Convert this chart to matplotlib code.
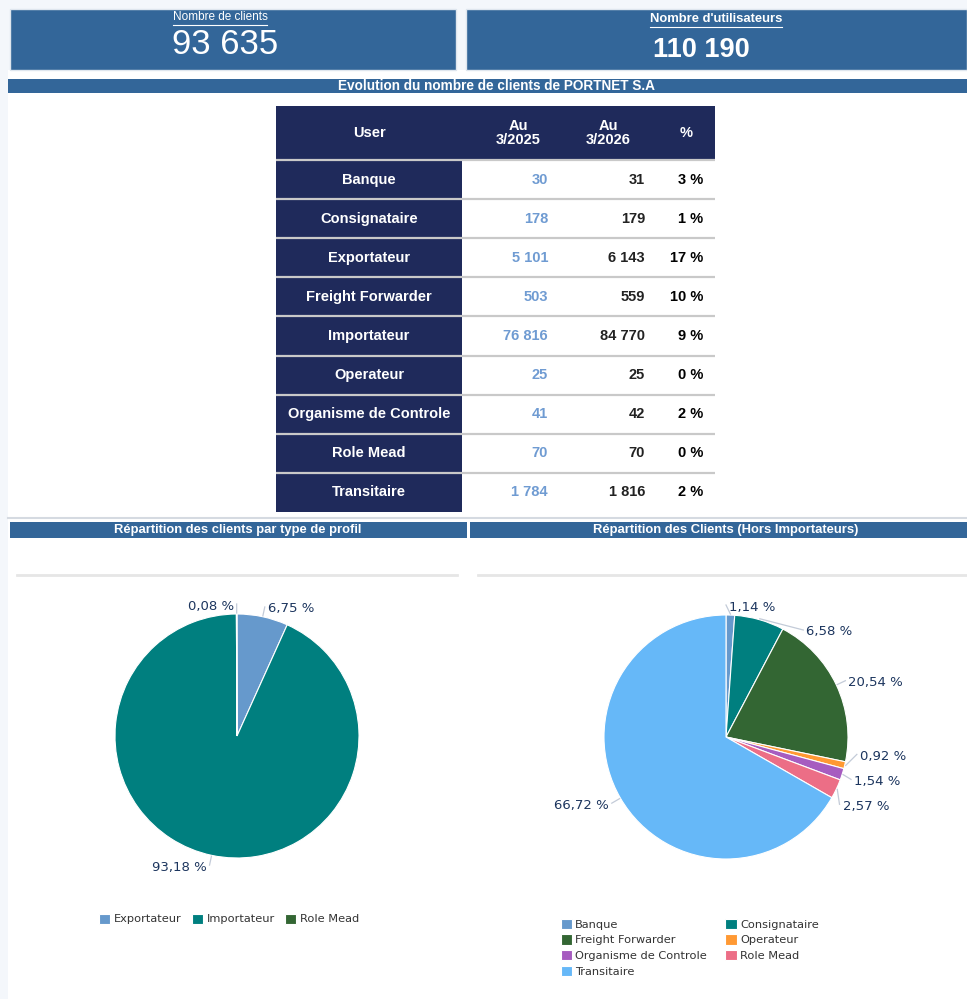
import numpy as np
import matplotlib
matplotlib.use('Agg')
import matplotlib.pyplot as plt
from matplotlib.patches import Rectangle

# KPI values
nb_clients = 93635
nb_users = 110190

# table data
users = ['Banque', 'Consignataire', 'Exportateur', 'Freight Forwarder', 'Importateur',
         'Operateur', 'Organisme de Controle', 'Role Mead', 'Transitaire']
val_2025 = [30, 178, 5101, 503, 76816, 25, 41, 70, 1784]
val_2026 = [31, 179, 6143, 559, 84770, 25, 42, 70, 1816]
evol_pct = [3, 1, 17, 10, 9, 0, 2, 0, 2]

# pie 1: clients by profile type
prof_labels = ['Exportateur', 'Importateur', 'Role Mead']
prof_pct = [6.75, 93.18, 0.08]
prof_colors = ['#6699cc', '#007f7f', '#336633']

# pie 2: clients excluding importers
hors_labels = ['Banque', 'Consignataire', 'Freight Forwarder', 'Operateur',
               'Organisme de Controle', 'Role Mead', 'Transitaire']
hors_pct = [1.14, 6.58, 20.54, 0.92, 1.54, 2.57, 66.72]
hors_colors = ['#6699cc', '#007f7f', '#336633', '#ff9933', '#a65cc0', '#ec6e86', '#66b8f8']

W, H = 967, 999
BLUE = '#336699'
NAVY = '#1f2a5b'
NARROW = ['Liberation Sans Narrow', 'Liberation Sans', 'DejaVu Sans']
ARIAL = ['Liberation Sans', 'DejaVu Sans']

fig = plt.figure(figsize=(W / 100, H / 100), dpi=100, facecolor='#f4f7fb')
bg = fig.add_axes([0, 0, 1, 1])
bg.set_xlim(0, W)
bg.set_ylim(H, 0)
bg.axis('off')

def fmt(v):
    return f'{v:,}'.replace(',', ' ')

# white page area
bg.add_patch(Rectangle((8, 70), W - 8, H - 70, facecolor='white', edgecolor='none'))

# KPI boxes
bg.add_patch(Rectangle((10, 9), 446, 61, facecolor=BLUE, edgecolor='#dfe6ee', lw=1))
bg.add_patch(Rectangle((466, 9), 501, 61, facecolor=BLUE, edgecolor='#dfe6ee', lw=1))
underlined = []
underlined.append(bg.text(220, 17, 'Nombre de clients', color='white', fontsize=8.5,
                          family=NARROW, ha='center', va='center'))
bg.text(225, 45, fmt(nb_clients), color='white', fontsize=25, family=ARIAL,
        ha='center', va='center')
underlined.append(bg.text(716, 19, "Nombre d'utilisateurs", color='white', fontsize=9.4,
                          family=NARROW, fontweight='bold', ha='center', va='center'))
bg.text(701, 50, fmt(nb_users), color='white', fontsize=19.5, family=ARIAL,
        fontweight='bold', ha='center', va='center')

# section title
bg.add_patch(Rectangle((8, 79), W - 8, 14, facecolor=BLUE, edgecolor='none'))
bg.text(497, 86, 'Evolution du nombre de clients de PORTNET S.A', color='white',
        fontsize=9.8, family=NARROW, fontweight='bold', ha='center', va='center')

# table
tx0, tx1, ux1 = 276, 715, 462
head_top, head_bot = 106, 160
row_h = 39.1
n = len(users)
bg.add_patch(Rectangle((tx0, head_top), tx1 - tx0, head_bot - head_top,
                       facecolor=NAVY, edgecolor='none'))
bg.add_patch(Rectangle((tx0, head_bot), ux1 - tx0, n * row_h,
                       facecolor=NAVY, edgecolor='none'))
hy = (head_top + head_bot) / 2
tkw = dict(family=ARIAL, fontweight='bold', fontsize=10.5, va='center')
bg.text(369, hy, 'User', color='white', ha='center', **tkw)
bg.text(518, hy, 'Au\n3/2025', color='white', ha='center', linespacing=1.0, **tkw)
bg.text(608, hy, 'Au\n3/2026', color='white', ha='center', linespacing=1.0, **tkw)
bg.text(686, hy, '%', color='white', ha='center', **tkw)
for i in range(n):
    yb = head_bot + i * row_h
    bg.plot([tx0, tx1], [yb, yb], color='#c9c9c9', lw=1.6, solid_capstyle='butt')
    yc = yb + row_h / 2
    bg.text(369, yc, users[i], color='white', ha='center', **tkw)
    bg.text(548, yc, fmt(val_2025[i]), color='#6f9bd2', ha='right', **tkw)
    bg.text(645, yc, fmt(val_2026[i]), color='#222222', ha='right', **tkw)
    bg.text(703, yc, f'{evol_pct[i]} %', color='#000000', ha='right', **tkw)

# separators and pie section titles
bg.plot([8, W], [518, 518], color='#d5dae1', lw=1.5)
bg.add_patch(Rectangle((10, 522), 457, 16, facecolor=BLUE, edgecolor='none'))
bg.add_patch(Rectangle((470, 522), W - 470, 16, facecolor=BLUE, edgecolor='none'))
bg.text(238, 530, 'Répartition des clients par type de profil', color='white',
        fontsize=9.4, family=NARROW, fontweight='bold', ha='center', va='center')
bg.text(726, 530, 'Répartition des Clients (Hors Importateurs)', color='white',
        fontsize=9.4, family=NARROW, fontweight='bold', ha='center', va='center')
bg.plot([17, 457], [575, 575], color='#e6e6e6', lw=2)
bg.plot([478, W], [575, 575], color='#e6e6e6', lw=2)


def pie_panel(cx, cy, x0, x1, y0, y1, vals, colors, r=122, rl=132, gap=25):
    ax = fig.add_axes([x0 / W, 1 - y1 / H, (x1 - x0) / W, (y1 - y0) / H])
    wedges, _ = ax.pie(vals, colors=colors, startangle=90, counterclock=False,
                       radius=r, wedgeprops=dict(edgecolor='white', linewidth=0.8))
    ax.set_xlim(x0 - cx, x1 - cx)
    ax.set_ylim(cy - y1, cy - y0)
    ax.set_aspect('auto')
    ax.axis('off')

    fr = np.array(vals) / np.sum(vals)
    starts = 90 - 360 * np.concatenate([[0], np.cumsum(fr)[:-1]])
    mids = np.radians(starts - 180 * fr)
    side = np.where(np.cos(mids) >= 0, 1, -1)
    ys = rl * np.sin(mids)
    for s in (1, -1):
        idx = [i for i in np.argsort(-ys) if side[i] == s]
        y = [ys[i] for i in idx]
        for _ in range(200):
            for k in range(len(y) - 1):
                d = gap - (y[k] - y[k + 1])
                if d > 0:
                    y[k] += d / 2
                    y[k + 1] -= d / 2
        if y:
            y[0] = min(y[0], rl)
            for k in range(len(y) - 1):
                y[k + 1] = min(y[k + 1], y[k] - gap)
            y[-1] = max(y[-1], -rl)
            for k in range(len(y) - 2, -1, -1):
                y[k] = max(y[k], y[k + 1] + gap)
        for i, yy in zip(idx, y):
            ys[i] = yy
    for i, v in enumerate(vals):
        lx = side[i] * np.sqrt(max(rl ** 2 - ys[i] ** 2, 0))
        ex, ey = (r + 1) * np.cos(mids[i]), (r + 1) * np.sin(mids[i])
        ax.plot([ex, lx], [ey, ys[i]], color='#c3cbd8', lw=0.9, clip_on=False)
        ax.text(lx + side[i] * 3, ys[i] - 2, f'{v:.2f} %'.replace('.', ','),
                ha='left' if side[i] > 0 else 'right', va='center',
                fontsize=9.5, color='#1c355e', family='DejaVu Sans', clip_on=False)
    return wedges


w1 = pie_panel(237, 736, 17, 457, 580, 890, prof_pct, prof_colors)
w2 = pie_panel(726, 737, 478, 967, 580, 890, hors_pct, hors_colors)

lkw = dict(frameon=False, handlelength=1.0, handleheight=1.0,
           handletextpad=0.3, borderaxespad=0, prop={'family': 'DejaVu Sans', 'size': 8.2})
leg1 = fig.legend(w1, prof_labels, loc='center', bbox_to_anchor=(229 / W, 1 - 919 / H),
                  ncol=3, columnspacing=0.9, **lkw)
order = [0, 2, 4, 6, 1, 3, 5]
leg2 = fig.legend([w2[i] for i in order], [hors_labels[i] for i in order], loc='upper left',
                  bbox_to_anchor=(556 / W, 1 - 914 / H), ncol=2, columnspacing=1.6,
                  labelspacing=0.42, **lkw)
for leg in (leg1, leg2):
    for t in leg.get_texts():
        t.set_color('#333333')

# underline the KPI captions
fig.canvas.draw()
rend = fig.canvas.get_renderer()
for t in underlined:
    bb = t.get_window_extent(rend)
    xa, xb = bb.x0, bb.x1
    yline = H - bb.y0 + 1.5
    bg.plot([xa, xb], [yline, yline], color='white', lw=0.8)

fig.savefig('out.png', dpi=100, facecolor=fig.get_facecolor())
